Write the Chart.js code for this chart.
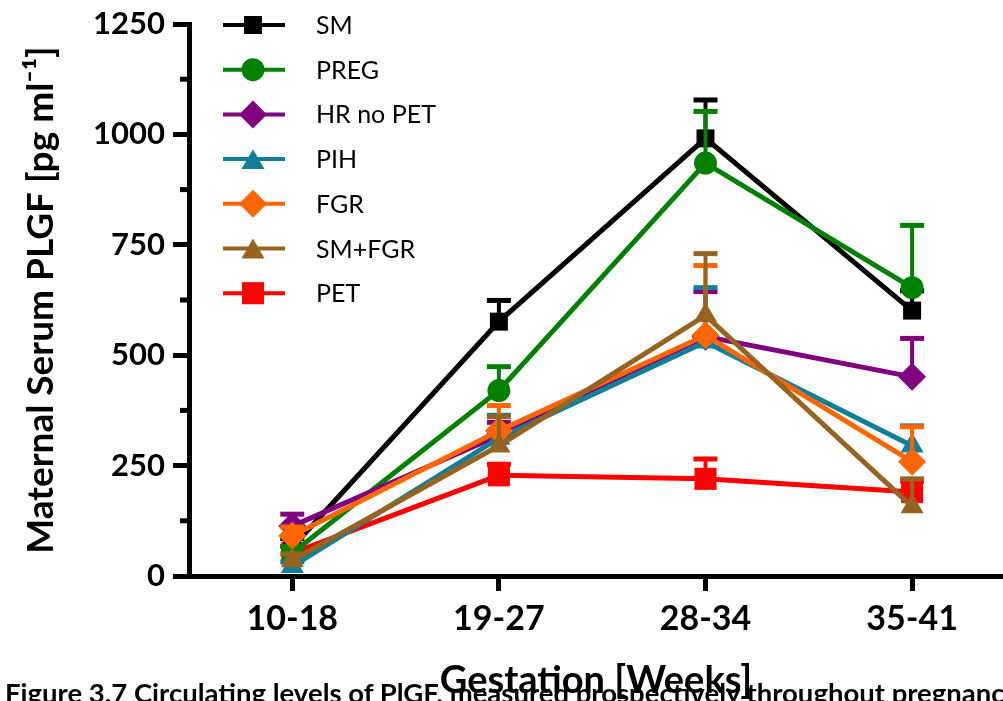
<!DOCTYPE html>
<html><head><meta charset="utf-8">
<script src="https://cdn.jsdelivr.net/npm/chart.js@4.4.1/dist/chart.umd.min.js"></script>
<style>
html,body{margin:0;padding:0;background:#fff;overflow:hidden;}
#wrap{position:relative;width:1003px;height:701px;overflow:hidden;}
#c{position:absolute;left:0;top:0;}
#caption{position:absolute;left:5px;top:679px;font:bold 27.5px Lato, sans-serif;line-height:27px;white-space:nowrap;color:#000;}
</style></head><body>
<div id="wrap"><canvas id="c" width="1003" height="701"></canvas>
<div id="caption">Figure 3.7 Circulating levels of PlGF, measured prospectively throughout pregnancy</div></div>
<script>
// ---- data ----
const categories = ['10-18', '19-27', '28-34', '35-41'];
const yTicks = [0, 250, 500, 750, 1000, 1250];
const yMinorTicks = [125, 375, 625, 875, 1125];
const seriesNames = ['SM', 'PREG', 'HR no PET', 'PIH', 'FGR', 'SM+FGR', 'PET'];

const smValues     = [65, 576, 991, 601];
const smErrors     = [20, 48, 87, 45];
const pregValues   = [52, 420, 935, 653];
const pregErrors   = [15, 54, 117, 141];
const hrValues     = [113, 318, 542, 451];
const hrErrors     = [27, 30, 102, 87];
const pihValues    = [22, 312, 530, 295];
const pihErrors    = [10, 52, 123, 45];
const fgrValues    = [91, 329, 545, 259];
const fgrErrors    = [20, 57, 158, 79];
const smfgrValues  = [35, 295, 590, 157];
const smfgrErrors  = [15, 66, 140, 63];
const petValues    = [52, 228, 220, 190];
const petErrors    = [15, 25, 45, 25];

const seriesValues = [smValues, pregValues, hrValues, pihValues, fgrValues, smfgrValues, petValues];
const seriesErrors = [smErrors, pregErrors, hrErrors, pihErrors, fgrErrors, smfgrErrors, petErrors];
const seriesColors = ['#000000', '#008000', '#800080', '#117F99', '#FF6600', '#966420', '#FF0000'];
const seriesStyles = ['rect', 'circle', 'rectRot', 'triangle', 'rectRot', 'triangle', 'rect'];
const seriesRadius = [12.7, 11.5, 14, 13.3, 14, 13.3, 15.6];
const drawOrder    = [6, 5, 4, 3, 2, 1, 7];

const datasets = seriesNames.map((name, k) => ({
  label: name,
  data: seriesValues[k].map((v, i) => ({x: i, y: v})),
  errors: seriesErrors[k],
  borderColor: seriesColors[k],
  backgroundColor: seriesColors[k],
  pointBackgroundColor: seriesColors[k],
  pointBorderWidth: 0,
  pointStyle: seriesStyles[k],
  pointRadius: seriesRadius[k],
  borderWidth: 5,
  tension: 0,
  fill: false,
  clip: false,
  order: drawOrder[k]
}));

function drawMarker(ctx, style, x, y, r, color) {
  ctx.fillStyle = color;
  ctx.beginPath();
  if (style === 'rect') {
    const s = r * Math.SQRT1_2;
    ctx.rect(x - s, y - s, 2 * s, 2 * s);
  } else if (style === 'circle') {
    ctx.arc(x, y, r, 0, Math.PI * 2);
  } else if (style === 'rectRot') {
    ctx.moveTo(x, y - r); ctx.lineTo(x + r, y); ctx.lineTo(x, y + r); ctx.lineTo(x - r, y); ctx.closePath();
  } else if (style === 'triangle') {
    const h = 1.5 * r, w = r * Math.sqrt(3);
    ctx.moveTo(x, y - h / 2); ctx.lineTo(x + w / 2, y + h / 2); ctx.lineTo(x - w / 2, y + h / 2); ctx.closePath();
  }
  ctx.fill();
}

const errorBarPlugin = {
  id: 'errorBars',
  beforeDatasetDraw(chart, args) {
    const ds = chart.data.datasets[args.index];
    const ys = chart.scales.y;
    const ctx = chart.ctx;
    ctx.save();
    ctx.strokeStyle = ds.borderColor;
    args.meta.data.forEach((pt, i) => {
      const top = ys.getPixelForValue(ds.data[i].y + ds.errors[i]);
      ctx.lineWidth = 4;
      ctx.beginPath(); ctx.moveTo(pt.x, pt.y); ctx.lineTo(pt.x, top); ctx.stroke();
      ctx.lineWidth = 5;
      ctx.beginPath(); ctx.moveTo(pt.x - 12, top); ctx.lineTo(pt.x + 12, top); ctx.stroke();
    });
    ctx.restore();
  }
};

const minorTickPlugin = {
  id: 'minorTicks',
  afterDraw(chart) {
    const ys = chart.scales.y, ctx = chart.ctx, left = chart.chartArea.left;
    ctx.save();
    ctx.strokeStyle = '#000'; ctx.lineWidth = 5;
    yMinorTicks.forEach(v => {
      const py = ys.getPixelForValue(v);
      ctx.beginPath(); ctx.moveTo(left - 9, py); ctx.lineTo(left, py); ctx.stroke();
    });
    ctx.restore();
  }
};

const legendPlugin = {
  id: 'customLegend',
  afterDatasetsDraw(chart) {
    const ctx = chart.ctx, a = chart.chartArea;
    ctx.save();
    chart.data.datasets.forEach((ds, k) => {
      const y = a.top + 1 + k * 44.7;
      const mx = a.left + 64;
      ctx.strokeStyle = ds.borderColor; ctx.lineWidth = 4;
      ctx.beginPath(); ctx.moveTo(a.left + 34, y); ctx.lineTo(a.left + 96, y); ctx.stroke();
      drawMarker(ctx, ds.pointStyle, mx, y, ds.pointRadius, ds.borderColor);
      ctx.fillStyle = '#000';
      ctx.font = '25px Lato, sans-serif';
      ctx.textAlign = 'left'; ctx.textBaseline = 'middle';
      ctx.fillText(ds.label, a.left + 127, y + 1);
    });
    ctx.restore();
  }
};

new Chart(document.getElementById('c'), {
  type: 'line',
  data: {datasets},
  plugins: [errorBarPlugin, minorTickPlugin, legendPlugin],
  options: {
    responsive: false,
    devicePixelRatio: 1,
    animation: false,
    layout: {autoPadding: false, padding: {top: 24, left: 0, right: 0, bottom: 0}},
    plugins: {legend: {display: false}, tooltip: {enabled: false}},
    scales: {
      x: {
        type: 'linear',
        min: -0.5,
        max: 3.44,
        afterBuildTicks: (s) => { s.ticks = categories.map((c, i) => ({value: i})); },
        afterFit: (s) => { s.height = 125; s.paddingLeft = 0; s.paddingRight = 0; },
        ticks: {
          includeBounds: false,
          callback: (v) => categories[v],
          color: '#000',
          font: {family: 'Lato', size: 34, weight: 'bold'},
          padding: 8,
          maxRotation: 0,
          autoSkip: false
        },
        grid: {drawOnChartArea: false, drawTicks: true, tickLength: 15, tickWidth: 5, tickColor: '#000'},
        border: {display: true, width: 5, color: '#000'},
        title: {
          display: true,
          text: 'Gestation [Weeks]',
          color: '#000',
          font: {family: 'Lato', size: 38, weight: 'bold', lineHeight: 1.05},
          padding: {top: 0, bottom: 0}
        }
      },
      y: {
        type: 'linear',
        min: 0,
        max: 1250,
        afterBuildTicks: (s) => { s.ticks = yTicks.map(v => ({value: v})); },
        afterFit: (s) => { s.width = 189; s.paddingTop = 0; s.paddingBottom = 0; },
        ticks: {
          callback: (v) => String(v),
          color: '#000',
          font: {family: 'Lato', size: 31, weight: 'bold'},
          padding: 8
        },
        grid: {drawOnChartArea: false, drawTicks: true, tickLength: 16, tickWidth: 5, tickColor: '#000'},
        border: {display: true, width: 5, color: '#000'},
        title: {
          display: true,
          text: 'Maternal Serum PLGF [pg ml⁻¹]',
          color: '#000',
          font: {family: 'Lato', size: 37, weight: 'bold'},
          padding: {top: 19, bottom: 0}
        }
      }
    }
  }
});
</script>
</body></html>
